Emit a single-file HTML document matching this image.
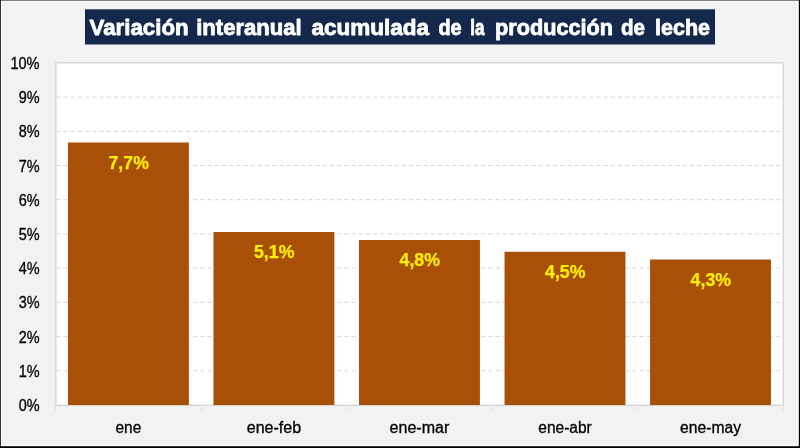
<!DOCTYPE html>
<html lang="es"><head><meta charset="utf-8"><title>Variación interanual acumulada de la producción de leche</title>
<style>html,body{margin:0;padding:0;background:#000;overflow:hidden}svg{display:block}text{font-family:"Liberation Sans",sans-serif}</style></head><body>
<svg width="800" height="448" viewBox="0 0 800 448">
<rect x="0" y="0" width="800" height="448" fill="#000"/>
<rect x="0.8" y="0.5" width="798" height="445.7" fill="#fff"/>
<rect x="1.7" y="1.5" width="796" height="443.7" fill="#f2f2f2"/>
<rect x="85" y="9.3" width="630" height="35.2" fill="#14284B"/>
<text x="89.6" y="35.4" font-size="22.2" font-weight="bold" fill="#fff" stroke="#fff" stroke-width="0.8" stroke-linejoin="round" textLength="99.0" lengthAdjust="spacingAndGlyphs">Variación</text>
<text x="196.2" y="35.4" font-size="22.2" font-weight="bold" fill="#fff" stroke="#fff" stroke-width="0.8" stroke-linejoin="round" textLength="105.4" lengthAdjust="spacingAndGlyphs">interanual</text>
<text x="311.4" y="35.4" font-size="22.2" font-weight="bold" fill="#fff" stroke="#fff" stroke-width="0.8" stroke-linejoin="round" textLength="117.6" lengthAdjust="spacingAndGlyphs">acumulada</text>
<text x="438.4" y="35.4" font-size="22.2" font-weight="bold" fill="#fff" stroke="#fff" stroke-width="0.8" stroke-linejoin="round" textLength="23.2" lengthAdjust="spacingAndGlyphs">de</text>
<text x="470.2" y="35.4" font-size="22.2" font-weight="bold" fill="#fff" stroke="#fff" stroke-width="0.8" stroke-linejoin="round" textLength="14.2" lengthAdjust="spacingAndGlyphs">la</text>
<text x="495.0" y="35.4" font-size="22.2" font-weight="bold" fill="#fff" stroke="#fff" stroke-width="0.8" stroke-linejoin="round" textLength="118.0" lengthAdjust="spacingAndGlyphs">producción</text>
<text x="621.0" y="35.4" font-size="22.2" font-weight="bold" fill="#fff" stroke="#fff" stroke-width="0.8" stroke-linejoin="round" textLength="24.0" lengthAdjust="spacingAndGlyphs">de</text>
<text x="655.0" y="35.4" font-size="22.2" font-weight="bold" fill="#fff" stroke="#fff" stroke-width="0.8" stroke-linejoin="round" textLength="55.0" lengthAdjust="spacingAndGlyphs">leche</text>
<rect x="55.9" y="62.9" width="727.4" height="342.40000000000003" fill="#fff" stroke="#cccccc" stroke-width="1.1"/>
<line x1="56.4" x2="782.8" y1="370.79" y2="370.79" stroke="#d6d6d6" stroke-width="1" stroke-dasharray="4 3.2"/>
<line x1="56.4" x2="782.8" y1="336.58" y2="336.58" stroke="#d6d6d6" stroke-width="1" stroke-dasharray="4 3.2"/>
<line x1="56.4" x2="782.8" y1="302.37" y2="302.37" stroke="#d6d6d6" stroke-width="1" stroke-dasharray="4 3.2"/>
<line x1="56.4" x2="782.8" y1="268.16" y2="268.16" stroke="#d6d6d6" stroke-width="1" stroke-dasharray="4 3.2"/>
<line x1="56.4" x2="782.8" y1="233.95" y2="233.95" stroke="#d6d6d6" stroke-width="1" stroke-dasharray="4 3.2"/>
<line x1="56.4" x2="782.8" y1="199.74" y2="199.74" stroke="#d6d6d6" stroke-width="1" stroke-dasharray="4 3.2"/>
<line x1="56.4" x2="782.8" y1="165.53" y2="165.53" stroke="#d6d6d6" stroke-width="1" stroke-dasharray="4 3.2"/>
<line x1="56.4" x2="782.8" y1="131.32" y2="131.32" stroke="#d6d6d6" stroke-width="1" stroke-dasharray="4 3.2"/>
<line x1="56.4" x2="782.8" y1="97.11" y2="97.11" stroke="#d6d6d6" stroke-width="1" stroke-dasharray="4 3.2"/>
<line x1="55.60" x2="55.60" y1="405.3" y2="410.8" stroke="#e2e2e2" stroke-width="1"/>
<line x1="201.13" x2="201.13" y1="405.3" y2="410.8" stroke="#e2e2e2" stroke-width="1"/>
<line x1="346.66" x2="346.66" y1="405.3" y2="410.8" stroke="#e2e2e2" stroke-width="1"/>
<line x1="492.19" x2="492.19" y1="405.3" y2="410.8" stroke="#e2e2e2" stroke-width="1"/>
<line x1="637.72" x2="637.72" y1="405.3" y2="410.8" stroke="#e2e2e2" stroke-width="1"/>
<line x1="783.25" x2="783.25" y1="405.3" y2="410.8" stroke="#e2e2e2" stroke-width="1"/>
<text x="18.7" y="411.00" font-size="15.6" fill="#000" stroke="#000" stroke-width="0.3" textLength="20.9" lengthAdjust="spacingAndGlyphs">0%</text>
<text x="18.7" y="376.79" font-size="15.6" fill="#000" stroke="#000" stroke-width="0.3" textLength="20.9" lengthAdjust="spacingAndGlyphs">1%</text>
<text x="18.7" y="342.58" font-size="15.6" fill="#000" stroke="#000" stroke-width="0.3" textLength="20.9" lengthAdjust="spacingAndGlyphs">2%</text>
<text x="18.7" y="308.37" font-size="15.6" fill="#000" stroke="#000" stroke-width="0.3" textLength="20.9" lengthAdjust="spacingAndGlyphs">3%</text>
<text x="18.7" y="274.16" font-size="15.6" fill="#000" stroke="#000" stroke-width="0.3" textLength="20.9" lengthAdjust="spacingAndGlyphs">4%</text>
<text x="18.7" y="239.95" font-size="15.6" fill="#000" stroke="#000" stroke-width="0.3" textLength="20.9" lengthAdjust="spacingAndGlyphs">5%</text>
<text x="18.7" y="205.74" font-size="15.6" fill="#000" stroke="#000" stroke-width="0.3" textLength="20.9" lengthAdjust="spacingAndGlyphs">6%</text>
<text x="18.7" y="171.53" font-size="15.6" fill="#000" stroke="#000" stroke-width="0.3" textLength="20.9" lengthAdjust="spacingAndGlyphs">7%</text>
<text x="18.7" y="137.32" font-size="15.6" fill="#000" stroke="#000" stroke-width="0.3" textLength="20.9" lengthAdjust="spacingAndGlyphs">8%</text>
<text x="18.7" y="103.11" font-size="15.6" fill="#000" stroke="#000" stroke-width="0.3" textLength="20.9" lengthAdjust="spacingAndGlyphs">9%</text>
<text x="10.4" y="68.90" font-size="15.6" fill="#000" stroke="#000" stroke-width="0.3" textLength="29.2" lengthAdjust="spacingAndGlyphs">10%</text>
<rect x="67.95" y="142.5" width="120.9" height="262.50" fill="#A85007"/>
<rect x="213.48" y="232.0" width="120.9" height="173.00" fill="#A85007"/>
<rect x="359.01" y="240.0" width="120.9" height="165.00" fill="#A85007"/>
<rect x="504.54" y="251.75" width="120.9" height="153.25" fill="#A85007"/>
<rect x="650.07" y="259.5" width="120.9" height="145.50" fill="#A85007"/>
<text x="108.50" y="168.50" font-size="18.6" font-weight="bold" fill="#FFEE05" stroke="#FFEE05" stroke-width="0.25" textLength="40.4" lengthAdjust="spacingAndGlyphs">7,7%</text>
<text x="254.03" y="258.00" font-size="18.6" font-weight="bold" fill="#FFEE05" stroke="#FFEE05" stroke-width="0.25" textLength="40.4" lengthAdjust="spacingAndGlyphs">5,1%</text>
<text x="399.56" y="266.00" font-size="18.6" font-weight="bold" fill="#FFEE05" stroke="#FFEE05" stroke-width="0.25" textLength="40.4" lengthAdjust="spacingAndGlyphs">4,8%</text>
<text x="545.09" y="277.75" font-size="18.6" font-weight="bold" fill="#FFEE05" stroke="#FFEE05" stroke-width="0.25" textLength="40.4" lengthAdjust="spacingAndGlyphs">4,5%</text>
<text x="690.62" y="285.50" font-size="18.6" font-weight="bold" fill="#FFEE05" stroke="#FFEE05" stroke-width="0.25" textLength="40.4" lengthAdjust="spacingAndGlyphs">4,3%</text>
<text x="115.50" y="432.6" font-size="15.6" fill="#000" stroke="#000" stroke-width="0.3" textLength="25.8" lengthAdjust="spacingAndGlyphs">ene</text>
<text x="246.73" y="432.6" font-size="15.6" fill="#000" stroke="#000" stroke-width="0.3" textLength="54.4" lengthAdjust="spacingAndGlyphs">ene-feb</text>
<text x="389.56" y="432.6" font-size="15.6" fill="#000" stroke="#000" stroke-width="0.3" textLength="59.8" lengthAdjust="spacingAndGlyphs">ene-mar</text>
<text x="538.29" y="432.6" font-size="15.6" fill="#000" stroke="#000" stroke-width="0.3" textLength="53.4" lengthAdjust="spacingAndGlyphs">ene-abr</text>
<text x="680.02" y="432.6" font-size="15.6" fill="#000" stroke="#000" stroke-width="0.3" textLength="61.0" lengthAdjust="spacingAndGlyphs">ene-may</text>
</svg></body></html>
